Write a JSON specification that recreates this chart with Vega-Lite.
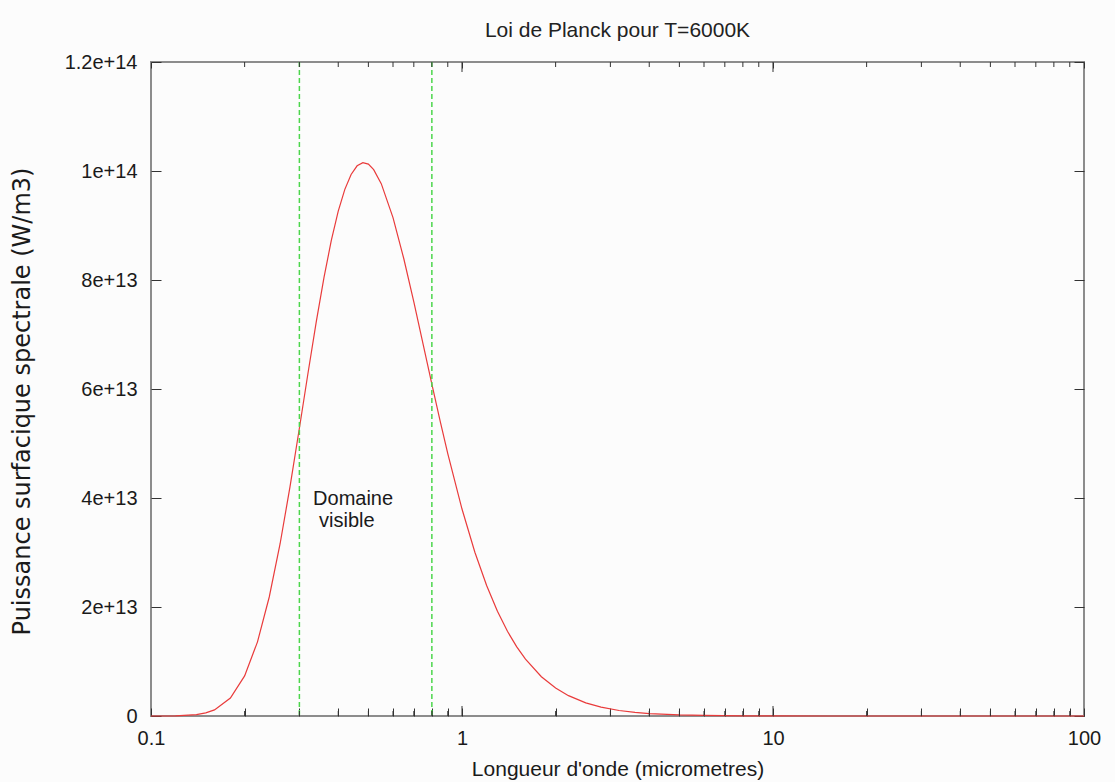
{
  "$schema": "https://vega.github.io/schema/vega-lite/v6.json",
  "width": 933,
  "height": 654,
  "autosize": {"type": "none"},
  "padding": {"left": 151, "top": 62, "right": 31, "bottom": 66},
  "background": "#fcfcfc",
  "config": {
    "font": "Liberation Sans",
    "view": {"stroke": "#8c8c8c", "strokeWidth": 2}
  },
  "title": {
    "text": "Loi de Planck pour T=6000K",
    "fontSize": 21,
    "fontWeight": "normal",
    "color": "#222222",
    "offset": 11,
    "anchor": "middle"
  },
  "datasets": {
    "majorTicks": [{"lambda": 1}, {"lambda": 10}],
    "minorTicks": [
      {"lambda": 0.2}, {"lambda": 0.3}, {"lambda": 0.4}, {"lambda": 0.5}, {"lambda": 0.6}, {"lambda": 0.7}, {"lambda": 0.8}, {"lambda": 0.9},
      {"lambda": 2}, {"lambda": 3}, {"lambda": 4}, {"lambda": 5}, {"lambda": 6}, {"lambda": 7}, {"lambda": 8}, {"lambda": 9},
      {"lambda": 20}, {"lambda": 30}, {"lambda": 40}, {"lambda": 50}, {"lambda": 60}, {"lambda": 70}, {"lambda": 80}, {"lambda": 90}
    ]
  },
  "layer": [
    {
      "data": {
        "values": [
          {"lambda": 0.1, "B": 1.46e9},
          {"lambda": 0.12, "B": 3.2e10},
          {"lambda": 0.14, "B": 2.57e11},
          {"lambda": 0.15, "B": 5.702e11},
          {"lambda": 0.16, "B": 1.1219e12},
          {"lambda": 0.18, "B": 3.2924e12},
          {"lambda": 0.2, "B": 7.3656e12},
          {"lambda": 0.22, "B": 1.3603e13},
          {"lambda": 0.24, "B": 2.1836e13},
          {"lambda": 0.26, "B": 3.1563e13},
          {"lambda": 0.28, "B": 4.2115e13},
          {"lambda": 0.3, "B": 5.2802e13},
          {"lambda": 0.32, "B": 6.3029e13},
          {"lambda": 0.34, "B": 7.2355e13},
          {"lambda": 0.36, "B": 8.0484e13},
          {"lambda": 0.38, "B": 8.7256e13},
          {"lambda": 0.4, "B": 9.2626e13},
          {"lambda": 0.42, "B": 9.6634e13},
          {"lambda": 0.44, "B": 9.9369e13},
          {"lambda": 0.46, "B": 1.00955e14},
          {"lambda": 0.48, "B": 1.0154e14},
          {"lambda": 0.5, "B": 1.01257e14},
          {"lambda": 0.52, "B": 1.00253e14},
          {"lambda": 0.55, "B": 9.7679e13},
          {"lambda": 0.6, "B": 9.1436e13},
          {"lambda": 0.65, "B": 8.39e13},
          {"lambda": 0.7, "B": 7.5971e13},
          {"lambda": 0.75, "B": 6.8199e13},
          {"lambda": 0.8, "B": 6.0889e13},
          {"lambda": 0.85, "B": 5.4186e13},
          {"lambda": 0.9, "B": 4.8143e13},
          {"lambda": 1.0, "B": 3.7975e13},
          {"lambda": 1.1, "B": 3.0055e13},
          {"lambda": 1.2, "B": 2.3936e13},
          {"lambda": 1.3, "B": 1.9207e13},
          {"lambda": 1.4, "B": 1.5538e13},
          {"lambda": 1.5, "B": 1.2673e13},
          {"lambda": 1.6, "B": 1.042e13},
          {"lambda": 1.8, "B": 7.2056e12},
          {"lambda": 2.0, "B": 5.1228e12},
          {"lambda": 2.2, "B": 3.7328e12},
          {"lambda": 2.5, "B": 2.4161e12},
          {"lambda": 2.8, "B": 1.629e12},
          {"lambda": 3.2, "B": 1.0145e12},
          {"lambda": 3.6, "B": 6.635e11},
          {"lambda": 4, "B": 4.5164e11},
          {"lambda": 5, "B": 1.9748e11},
          {"lambda": 6, "B": 9.941e10},
          {"lambda": 8, "B": 3.316e10},
          {"lambda": 10, "B": 1.4014e10},
          {"lambda": 15, "B": 2.885e9},
          {"lambda": 20, "B": 9.32e8},
          {"lambda": 30, "B": 1.878e8},
          {"lambda": 50, "B": 2.474e7},
          {"lambda": 70, "B": 6.48e6},
          {"lambda": 100, "B": 1.565e6}
        ]
      },
      "mark": {"type": "line", "color": "#e93b3b", "strokeWidth": 1.2, "interpolate": "linear"},
      "encoding": {
        "x": {
          "field": "lambda",
          "type": "quantitative",
          "scale": {"type": "log", "domain": [0.1, 100], "nice": false},
          "axis": {
            "orient": "bottom",
            "values": [0.1, 0.2, 0.3, 0.4, 0.5, 0.6, 0.7, 0.8, 0.9, 1, 2, 3, 4, 5, 6, 7, 8, 9, 10, 20, 30, 40, 50, 60, 70, 80, 90, 100],
            "labelExpr": "abs(log(datum.value)/LN10 - round(log(datum.value)/LN10)) < 0.001 ? '' + datum.value : ''",
            "ticks": true,
            "tickSize": -8,
            "tickColor": "#333333",
            "tickWidth": 1,
            "labelPadding": 20,
            "labelFontSize": 20,
            "labelColor": "#1a1a1a",
            "labelFlush": false,
            "labelOverlap": false,
            "domain": false,
            "grid": false,
            "title": "Longueur d'onde (micrometres)",
            "titleFontSize": 21,
            "titleFontWeight": "normal",
            "titleColor": "#1a1a1a",
            "titleBaseline": "alphabetic",
            "titleY": 59
          }
        },
        "y": {
          "field": "B",
          "type": "quantitative",
          "scale": {"domain": [0, 1.2e14], "nice": false},
          "axis": {
            "orient": "left",
            "values": [0, 2e13, 4e13, 6e13, 8e13, 1e14, 1.2e14],
            "labelExpr": "datum.value == 0 ? '0' : format(datum.value, '~e')",
            "tickSize": -10,
            "tickColor": "#333333",
            "labelPadding": 24,
            "labelFontSize": 20,
            "labelColor": "#1a1a1a",
            "labelFlush": false,
            "labelOverlap": false,
            "domain": false,
            "grid": false,
            "title": "Puissance surfacique spectrale (W/m3)",
            "titleFont": "DejaVu Sans",
            "titleFontSize": 24,
            "titleFontWeight": "normal",
            "titleColor": "#1a1a1a",
            "titleBaseline": "middle",
            "titleX": -129,
            "titleY": 339
          }
        }
      }
    },
    {
      "data": {"values": [{"lambda": 0.3}, {"lambda": 0.8}]},
      "mark": {"type": "rule", "color": "#4cd64c", "strokeWidth": 1.5, "strokeDash": [5, 3]},
      "encoding": {
        "x": {
          "field": "lambda",
          "type": "quantitative",
          "scale": {"type": "log", "domain": [0.1, 100], "nice": false},
          "axis": {
            "orient": "top",
            "values": [0.1, 1, 10, 100],
            "labels": false,
            "ticks": true,
            "tickSize": -6,
            "tickColor": "#333333",
            "domain": false,
            "grid": false,
            "title": null
          }
        }
      }
    },
    {
      "data": {"name": "majorTicks"},
      "mark": {"type": "rule", "color": "#333333", "strokeWidth": 1},
      "encoding": {
        "x": {"field": "lambda", "type": "quantitative", "scale": {"type": "log", "domain": [0.1, 100], "nice": false}, "axis": null},
        "y": {"datum": 0, "type": "quantitative", "axis": null},
        "y2": {"datum": 1.835e12}
      }
    },
    {
      "data": {"name": "majorTicks"},
      "mark": {"type": "rule", "color": "#333333", "strokeWidth": 1},
      "encoding": {
        "x": {"field": "lambda", "type": "quantitative", "scale": {"type": "log", "domain": [0.1, 100], "nice": false}, "axis": null},
        "y": {"datum": 1.2e14, "type": "quantitative", "axis": null},
        "y2": {"datum": 1.18165e14}
      }
    },
    {
      "data": {"name": "minorTicks"},
      "mark": {"type": "rule", "color": "#333333", "strokeWidth": 1},
      "encoding": {
        "x": {"field": "lambda", "type": "quantitative", "scale": {"type": "log", "domain": [0.1, 100], "nice": false}, "axis": null},
        "y": {"datum": 0, "type": "quantitative", "axis": null},
        "y2": {"datum": 0.92e12}
      }
    },
    {
      "data": {"name": "minorTicks"},
      "mark": {"type": "rule", "color": "#333333", "strokeWidth": 1},
      "encoding": {
        "x": {"field": "lambda", "type": "quantitative", "scale": {"type": "log", "domain": [0.1, 100], "nice": false}, "axis": null},
        "y": {"datum": 1.2e14, "type": "quantitative", "axis": null},
        "y2": {"datum": 1.1908e14}
      }
    },
    {
      "data": {"values": [
        {"lambda": 0.332, "B": 3.87e13, "label": "Domaine"},
        {"lambda": 0.347, "B": 3.47e13, "label": "visible"}
      ]},
      "mark": {"type": "text", "align": "left", "baseline": "alphabetic", "fontSize": 20, "color": "#1a1a1a"},
      "encoding": {
        "x": {"field": "lambda", "type": "quantitative", "scale": {"type": "log", "domain": [0.1, 100], "nice": false}, "axis": null},
        "y": {
          "field": "B",
          "type": "quantitative",
          "scale": {"domain": [0, 1.2e14], "nice": false},
          "axis": {
            "orient": "right",
            "values": [0, 2e13, 4e13, 6e13, 8e13, 1e14, 1.2e14],
            "labels": false,
            "tickSize": -10,
            "tickColor": "#333333",
            "domain": false,
            "grid": false,
            "title": null
          }
        },
        "text": {"field": "label"}
      }
    }
  ]
}
